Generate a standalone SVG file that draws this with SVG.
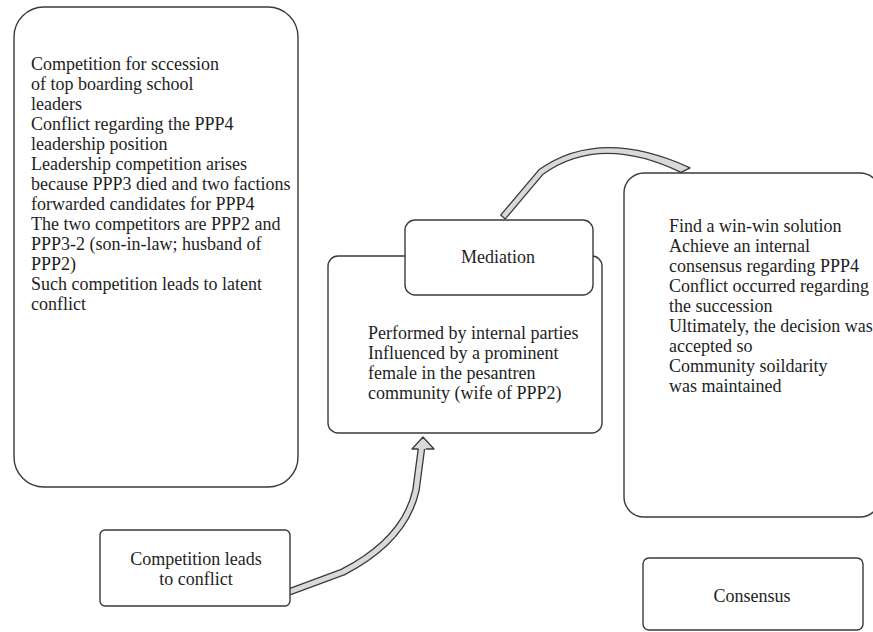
<svg xmlns="http://www.w3.org/2000/svg" width="873" height="632" viewBox="0 0 873 632">
<style>
.box{fill:#ffffff;stroke:#3a3a3a;stroke-width:1.4}
.t{font-family:"Liberation Serif","Times New Roman",serif;font-size:18px;fill:#1e1e1e}
.c{text-anchor:middle}
.band{fill:#d9d9d9;stroke:#3a3a3a;stroke-width:1.3;stroke-linejoin:round}
.shaftOut{fill:none;stroke:#3a3a3a;stroke-width:7.6;stroke-linejoin:round}
.shaftIn{fill:none;stroke:#d9d9d9;stroke-width:5}
</style>
<rect width="873" height="632" fill="#ffffff"/>
<g id="connectors">
  <path class="band" d="M 500.7 215.1 L 538.9 169.8 Q 600 126.5 690 167.8 L 681 172.3 Q 600 133.5 543.1 174.2 L 505.3 218.9 Z"/>
  <path class="shaftOut" d="M 289 592 L 343 572 Q 405 540 416 490 L 421.8 446"/>
  <path class="shaftIn" d="M 289 592 L 343 572 Q 405 540 416 490 L 421.8 446"/>
  <path class="band" d="M 418.4 449 L 412 449 L 423 437 L 434 449 L 425.8 449"/>
</g>
<g id="node-context">
  <rect class="box" x="14" y="7" width="284" height="480" rx="30" ry="30"/>
  <text class="t" x="31" y="70">
    <tspan x="31" y="70">Competition for sccession</tspan>
    <tspan x="31" dy="20">of top boarding school</tspan>
    <tspan x="31" dy="20">leaders</tspan>
    <tspan x="31" dy="20">Conflict regarding the PPP4</tspan>
    <tspan x="31" dy="20">leadership position</tspan>
    <tspan x="31" dy="20">Leadership competition arises</tspan>
    <tspan x="31" dy="20">because PPP3 died and two factions</tspan>
    <tspan x="31" dy="20">forwarded candidates for PPP4</tspan>
    <tspan x="31" dy="20">The two competitors are PPP2 and</tspan>
    <tspan x="31" dy="20">PPP3-2 (son-in-law; husband of</tspan>
    <tspan x="31" dy="20">PPP2)</tspan>
    <tspan x="31" dy="20">Such competition leads to latent</tspan>
    <tspan x="31" dy="20">conflict</tspan>
  </text>
</g>
<g id="node-competition">
  <rect class="box" x="100" y="530" width="190" height="76" rx="5" ry="5"/>
  <text class="t c" x="196" y="565">Competition leads</text>
  <text class="t c" x="196" y="585">to conflict</text>
</g>
<g id="node-mediation-detail">
  <rect class="box" x="328" y="256" width="274" height="177" rx="10" ry="10"/>
  <text class="t" x="368" y="339">
    <tspan x="368" y="339">Performed by internal parties</tspan>
    <tspan x="368" dy="20">Influenced by a prominent</tspan>
    <tspan x="368" dy="20">female in the pesantren</tspan>
    <tspan x="368" dy="20">community (wife of PPP2)</tspan>
  </text>
</g>
<g id="node-mediation">
  <rect class="box" x="405" y="220" width="188" height="75" rx="10" ry="10"/>
  <text class="t c" x="498" y="263">Mediation</text>
</g>
<g id="node-outcome">
  <rect class="box" x="624" y="173" width="256" height="344" rx="20" ry="20"/>
  <text class="t" x="669" y="232">
    <tspan x="669" y="232">Find a win-win solution</tspan>
    <tspan x="669" dy="20">Achieve an internal</tspan>
    <tspan x="669" dy="20">consensus regarding PPP4</tspan>
    <tspan x="669" dy="20">Conflict occurred regarding</tspan>
    <tspan x="669" dy="20">the succession</tspan>
    <tspan x="669" dy="20">Ultimately, the decision was</tspan>
    <tspan x="669" dy="20">accepted so</tspan>
    <tspan x="669" dy="20">Community soildarity</tspan>
    <tspan x="669" dy="20">was maintained</tspan>
  </text>
</g>
<g id="node-consensus">
  <rect class="box" x="643" y="558" width="220" height="72" rx="6" ry="6"/>
  <text class="t c" x="752" y="602">Consensus</text>
</g>
</svg>
